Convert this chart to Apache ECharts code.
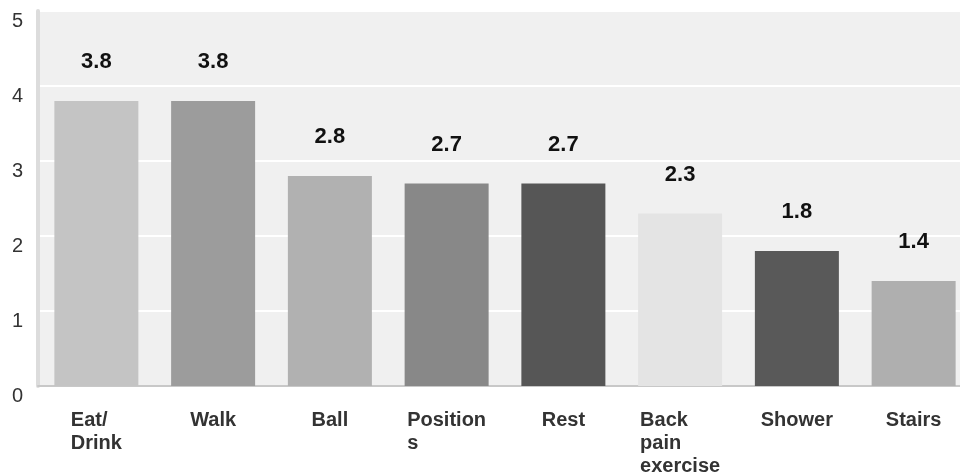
<!DOCTYPE html>
<html>
<head>
<meta charset="utf-8">
<script src="https://cdn.jsdelivr.net/npm/echarts@6/dist/echarts.min.js"></script>
<style>html,body{margin:0;padding:0;background:#fff}#c{width:960px;height:476px}</style>
</head>
<body>
<div id="c"></div>
<script>
const categories = ['Eat/\nDrink', 'Walk', 'Ball', 'Position\ns', 'Rest', 'Back\npain\nexercise', 'Shower', 'Stairs'];
const values = [3.8, 3.8, 2.8, 2.7, 2.7, 2.3, 1.8, 1.4];
const barColors = ['#c4c4c4', '#9c9c9c', '#b1b1b1', '#888888', '#565656', '#e4e4e4', '#595959', '#afafaf'];
const yTicks = [0, 1, 2, 3, 4, 5];

const chart = echarts.init(document.getElementById('c'));
chart.setOption({
  animation: false,
  grid: { left: 38, width: 934, top: 11, bottom: 90, show: true, backgroundColor: '#f0f0f0', borderWidth: 0, outerBoundsMode: 'none', containLabel: false },
  xAxis: {
    type: 'category',
    data: categories,
    axisLine: { show: true, lineStyle: { color: '#c8c8c8', width: 2 } },
    axisTick: { show: false },
    axisLabel: {
      interval: 0,
      margin: 23,
      formatter: v => v.split('\n').map(l => '{a|' + l + '}').join('\n'),
      rich: { a: { align: 'left', fontFamily: 'Liberation Sans, Arial, sans-serif', fontSize: 20, fontWeight: 'bold', lineHeight: 23, color: '#333' } }
    }
  },
  yAxis: {
    type: 'value',
    min: yTicks[0],
    max: yTicks[yTicks.length - 1],
    interval: 1,
    axisLine: { show: true, lineStyle: { color: '#dcdcdc', width: 4 } },
    axisTick: { show: false },
    splitLine: { show: true, lineStyle: { color: '#ffffff', width: 2 } },
    axisLabel: { margin: 15, verticalAlign: 'top', fontFamily: 'Liberation Sans, Arial, sans-serif', fontSize: 20, color: '#333' }
  },
  series: [{
    type: 'bar',
    barWidth: 84,
    data: values.map((v, i) => ({ value: v, itemStyle: { color: barColors[i] } })),
    label: {
      show: true,
      position: 'top',
      distance: 28,
      fontFamily: 'Liberation Sans, Arial, sans-serif',
      fontSize: 22,
      fontWeight: 'bold',
      color: '#111'
    }
  }]
});
</script>
</body>
</html>
